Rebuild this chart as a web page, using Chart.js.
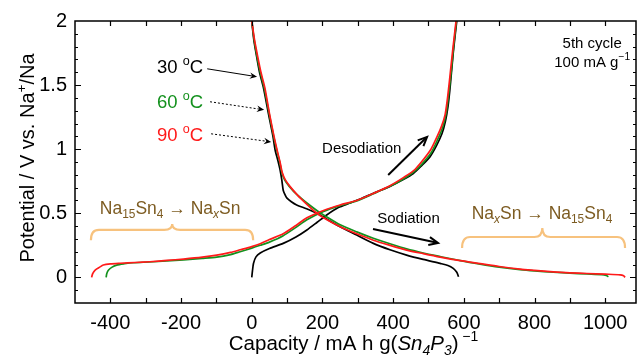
<!DOCTYPE html>
<html>
<head>
<meta charset="utf-8">
<script src="https://cdn.jsdelivr.net/npm/chart.js@4.4.1/dist/chart.umd.min.js"></script>
<style>
  html, body { margin: 0; padding: 0; background: #fff; }
  canvas { display: block; }
</style>
</head>
<body>
<canvas id="chart" width="639" height="355"></canvas>
<script>
const FONT = '"Liberation Sans", Arial, sans-serif';

// axis tick labels
const capLabels = [-400, -200, 0, 200, 400, 600, 800, 1000];
const potLabels = [0, 0.5, 1, 1.5, 2];

// [capacity mAh/g, potential V]
const sod30 = [[0,2.0],[6,1.85],[14,1.72],[22,1.6],[33,1.48],[47,1.28],[60,1.1],[66,0.995],[75,0.9],[80,0.84],[85,0.76],[89,0.68],[94,0.645],[99,0.62],[112,0.59],[127,0.565],[155,0.535],[184,0.5],[215,0.45],[250,0.395],[297,0.33],[344,0.265],[391,0.215],[438,0.174],[485,0.14],[533,0.109],[555,0.093],[570,0.07],[580,0.04],[585,0.005]];
const des30 = [[0,0],[2,0.05],[5,0.11],[12,0.16],[24,0.19],[50,0.225],[89,0.265],[125,0.315],[156,0.37],[185,0.43],[212,0.487],[245,0.545],[278,0.58],[310,0.615],[344,0.656],[391,0.71],[430,0.765],[457,0.81],[480,0.87],[504,0.94],[523,1.03],[538,1.12],[548,1.22],[555,1.33],[560,1.45],[565,1.6],[570,1.75],[575,1.88],[580,2.0]];

const sod60 = [[0,2.0],[7,1.85],[15,1.72],[24,1.6],[35,1.48],[49,1.28],[62,1.1],[71,0.99],[79,0.9],[85,0.82],[93,0.76],[106,0.71],[128,0.645],[156,0.58],[185,0.52],[210,0.475],[250,0.41],[297,0.355],[344,0.305],[391,0.262],[438,0.222],[485,0.19],[533,0.162],[590,0.13],[646,0.103],[700,0.08],[759,0.06],[800,0.05],[853,0.04],[900,0.033],[948,0.027],[990,0.022],[1003,0.015],[1009,0.005]];
const des60 = [[-412,0],[-410,0.03],[-405,0.057],[-395,0.08],[-382,0.096],[-360,0.106],[-335,0.114],[-290,0.12],[-240,0.128],[-193,0.137],[-140,0.148],[-99,0.158],[-60,0.178],[-33,0.2],[0,0.228],[24,0.25],[50,0.275],[89,0.325],[125,0.39],[156,0.45],[203,0.515],[250,0.56],[297,0.597],[344,0.652],[391,0.71],[430,0.77],[457,0.82],[480,0.88],[507,0.97],[525,1.07],[540,1.17],[550,1.28],[556,1.4],[561,1.52],[566,1.65],[571,1.8],[575,1.9],[579,2.0]];

const sod90 = [[0,2.0],[8,1.85],[17,1.72],[26,1.6],[37,1.48],[50,1.28],[63,1.1],[72,0.99],[80,0.9],[86,0.82],[95,0.76],[108,0.71],[130,0.64],[156,0.57],[180,0.51],[203,0.465],[250,0.395],[297,0.34],[344,0.29],[391,0.25],[438,0.213],[485,0.185],[533,0.158],[590,0.13],[646,0.107],[700,0.085],[759,0.065],[800,0.055],[853,0.043],[900,0.035],[948,0.03],[1000,0.025],[1042,0.02],[1052,0.012],[1056,0.0]];
const des90 = [[-453,0],[-450,0.03],[-443,0.057],[-430,0.08],[-420,0.096],[-400,0.105],[-372,0.11],[-330,0.116],[-288,0.122],[-240,0.132],[-193,0.143],[-140,0.158],[-99,0.174],[-60,0.195],[-33,0.215],[0,0.24],[24,0.262],[50,0.295],[89,0.34],[125,0.405],[156,0.465],[203,0.522],[250,0.565],[297,0.6],[344,0.655],[391,0.715],[430,0.78],[457,0.83],[480,0.9],[507,1.0],[523,1.09],[537,1.18],[547,1.27],[553,1.38],[558,1.5],[563,1.63],[568,1.76],[573,1.88],[578,2.0]];

const BLACK = '#000000';
const GREEN = '#14911e';
const RED = '#ff1a1a';
const BROWN = '#7d5c22';
const BRACE = '#f7c27e';

const line = (pts, color) => ({
  data: pts.map(([x, y]) => ({ x, y })),
  borderColor: color,
  borderWidth: 1.7,
  pointRadius: 0,
  showLine: true,
  tension: 0.25,
  fill: false,
});

// draw text with sub/superscripts; kinds: '', 'i', 'sub', 'isub', 'sup'
function rich(ctx, x, y, parts, size, color, align) {
  const fontOf = k => {
    const it = k.includes('i') ? 'italic ' : '';
    const s = (k.includes('sub') || k.includes('sup')) ? size * 0.68 : size;
    return it + s + 'px ' + FONT;
  };
  let w = 0;
  parts.forEach(([t, k]) => { ctx.font = fontOf(k); w += ctx.measureText(t).width; });
  let cx = align === 'center' ? x - w / 2 : align === 'right' ? x - w : x;
  ctx.fillStyle = color;
  ctx.textAlign = 'left';
  ctx.textBaseline = 'alphabetic';
  parts.forEach(([t, k]) => {
    ctx.font = fontOf(k);
    const dy = k.includes('sub') ? size * 0.22 : k.includes('sup') ? -size * 0.42 : 0;
    ctx.fillText(t, cx, y + dy);
    cx += ctx.measureText(t).width;
  });
}

function arrow(ctx, x0, y0, x1, y1, opts) {
  const ang = Math.atan2(y1 - y0, x1 - x0);
  ctx.save();
  ctx.strokeStyle = '#000';
  ctx.fillStyle = '#000';
  ctx.lineWidth = opts.width;
  ctx.setLineDash(opts.dash || []);
  ctx.beginPath();
  ctx.moveTo(x0, y0);
  ctx.lineTo(x1 - Math.cos(ang) * 2, y1 - Math.sin(ang) * 2);
  ctx.stroke();
  ctx.setLineDash([]);
  const L = opts.head, A = 0.42;
  if (opts.open) {
    ctx.beginPath();
    ctx.moveTo(x1 - L * Math.cos(ang - A), y1 - L * Math.sin(ang - A));
    ctx.lineTo(x1, y1);
    ctx.lineTo(x1 - L * Math.cos(ang + A), y1 - L * Math.sin(ang + A));
    ctx.stroke();
  } else {
    ctx.beginPath();
    ctx.moveTo(x1, y1);
    ctx.lineTo(x1 - L * Math.cos(ang - A), y1 - L * Math.sin(ang - A));
    ctx.lineTo(x1 - L * 0.6 * Math.cos(ang), y1 - L * 0.6 * Math.sin(ang));
    ctx.lineTo(x1 - L * Math.cos(ang + A), y1 - L * Math.sin(ang + A));
    ctx.closePath();
    ctx.fill();
  }
  ctx.restore();
}

function brace(ctx, x0, x1, xc, yb, ym, yt) {
  const r = 8;
  ctx.beginPath();
  ctx.moveTo(x0, yb);
  ctx.quadraticCurveTo(x0, ym, x0 + r, ym);
  ctx.lineTo(xc - r, ym);
  ctx.quadraticCurveTo(xc, ym, xc, yt);
  ctx.quadraticCurveTo(xc, ym, xc + r, ym);
  ctx.lineTo(x1 - r, ym);
  ctx.quadraticCurveTo(x1, ym, x1, yb);
  ctx.stroke();
}

const decorations = {
  id: 'decorations',
  afterDraw(chart) {
    const ctx = chart.ctx;
    const a = chart.chartArea;
    const xs = chart.scales.x, ys = chart.scales.y;
    const px = v => xs.getPixelForValue(v);
    const py = v => ys.getPixelForValue(v);

    ctx.save();
    // frame
    ctx.strokeStyle = '#000';
    ctx.lineWidth = 1.5;
    ctx.strokeRect(a.left, a.top, a.right - a.left, a.bottom - a.top);

    // inward ticks
    ctx.lineWidth = 1.2;
    ctx.beginPath();
    for (let v = -400; v <= 1000; v += 100) {
      const x = Math.round(px(v)) + 0.5;
      ctx.moveTo(x, a.bottom); ctx.lineTo(x, a.bottom - 5);
      ctx.moveTo(x, a.top); ctx.lineTo(x, a.top + 5);
    }
    for (let i = -1; i <= 19; i++) {
      const v = i / 10;
      const len = i % 5 === 0 ? 6 : 3;
      const y = Math.round(py(v)) + 0.5;
      ctx.moveTo(a.left, y); ctx.lineTo(a.left + len, y);
      ctx.moveTo(a.right, y); ctx.lineTo(a.right - len, y);
    }
    ctx.stroke();

    // axis titles
    rich(ctx, (a.left + a.right) / 2 - 2, 350, [
      ['Capacity / mA h g(', ''], ['Sn', 'i'], ['4', 'isub'], ['P', 'i'], ['3', 'isub'], [')', ''], [' \u22121', 'sup']
    ], 20.5, '#000', 'center');
    ctx.save();
    ctx.translate(34, (a.top + a.bottom) / 2 - 4);
    ctx.rotate(-Math.PI / 2);
    rich(ctx, 0, 0, [['Potential / V vs. Na', ''], ['+', 'sup'], ['/Na', '']], 20, '#000', 'center');
    ctx.restore();

    // temperature labels and pointers
    rich(ctx, px(-268), py(1.596), [['30 ', ''], ['o', 'sup'], ['C', '']], 18.5, BLACK, 'left');
    rich(ctx, px(-268), py(1.322), [['60 ', ''], ['o', 'sup'], ['C', '']], 18.5, GREEN, 'left');
    rich(ctx, px(-268), py(1.065), [['90 ', ''], ['o', 'sup'], ['C', '']], 18.5, RED, 'left');
    arrow(ctx, px(-126), py(1.627), px(15), py(1.565), { width: 1, head: 8 });
    arrow(ctx, px(-118), py(1.37), px(35), py(1.307), { width: 1, head: 8, dash: [2, 2] });
    arrow(ctx, px(-115), py(1.12), px(55), py(1.057), { width: 1, head: 8, dash: [2, 2] });

    // cycle info
    rich(ctx, px(963), py(1.79), [['5th cycle', '']], 15, '#000', 'center');
    rich(ctx, px(963), py(1.643), [['100 mA g', ''], ['\u22121', 'sup']], 15, '#000', 'center');

    // process labels
    rich(ctx, px(199), py(0.971), [['Desodiation', '']], 15, '#000', 'left');
    arrow(ctx, px(386), py(0.799), px(496), py(1.096), { width: 2, head: 10, open: true });
    rich(ctx, px(355), py(0.424), [['Sodiation', '']], 15, '#000', 'left');
    arrow(ctx, px(343), py(0.377), px(527), py(0.268), { width: 2, head: 10, open: true });

    // phase transitions
    rich(ctx, px(-231), py(0.495), [['Na', ''], ['15', 'sub'], ['Sn', ''], ['4', 'sub'], [' \u2192 ', ''], ['Na', ''], ['x', 'isub'], ['Sn', '']], 17.5, BROWN, 'center');
    rich(ctx, px(821), py(0.455), [['Na', ''], ['x', 'isub'], ['Sn', ''], [' \u2192 ', ''], ['Na', ''], ['15', 'sub'], ['Sn', ''], ['4', 'sub']], 17.5, BROWN, 'center');
    ctx.strokeStyle = BRACE;
    ctx.lineWidth = 2.2;
    brace(ctx, px(-455), px(4), px(-225), py(0.29), py(0.37), py(0.416));
    brace(ctx, px(595), px(1056), px(822), py(0.229), py(0.315), py(0.385));
    ctx.restore();
  }
};

new Chart(document.getElementById('chart'), {
  type: 'scatter',
  data: {
    datasets: [
      line(sod90, RED), line(des90, RED),
      line(sod60, GREEN), line(des60, GREEN),
      line(sod30, BLACK), line(des30, BLACK),
    ],
  },
  options: {
    responsive: false,
    devicePixelRatio: 1,
    animation: false,
    layout: { padding: { left: 0, top: 21, right: 3, bottom: 0 } },
    plugins: { legend: { display: false }, tooltip: { enabled: false } },
    scales: {
      x: {
        type: 'linear',
        min: -500,
        max: 1087,
        afterBuildTicks: s => { s.ticks = capLabels.map(v => ({ value: v })); },
        afterFit: s => { s.height = 52; },
        grid: { display: false, drawTicks: false },
        border: { display: false },
        ticks: { font: { family: FONT, size: 20 }, color: '#000', padding: 8, maxRotation: 0, autoSkip: false, callback: v => String(v) },
      },
      y: {
        type: 'linear',
        min: -0.2,
        max: 2,
        afterBuildTicks: s => { s.ticks = potLabels.map(v => ({ value: v })); },
        afterFit: s => { s.width = 75; },
        grid: { display: false, drawTicks: false },
        border: { display: false },
        ticks: { font: { family: FONT, size: 20 }, color: '#000', padding: 8, callback: v => String(v) },
      },
    },
  },
  plugins: [decorations],
});
</script>
</body>
</html>
